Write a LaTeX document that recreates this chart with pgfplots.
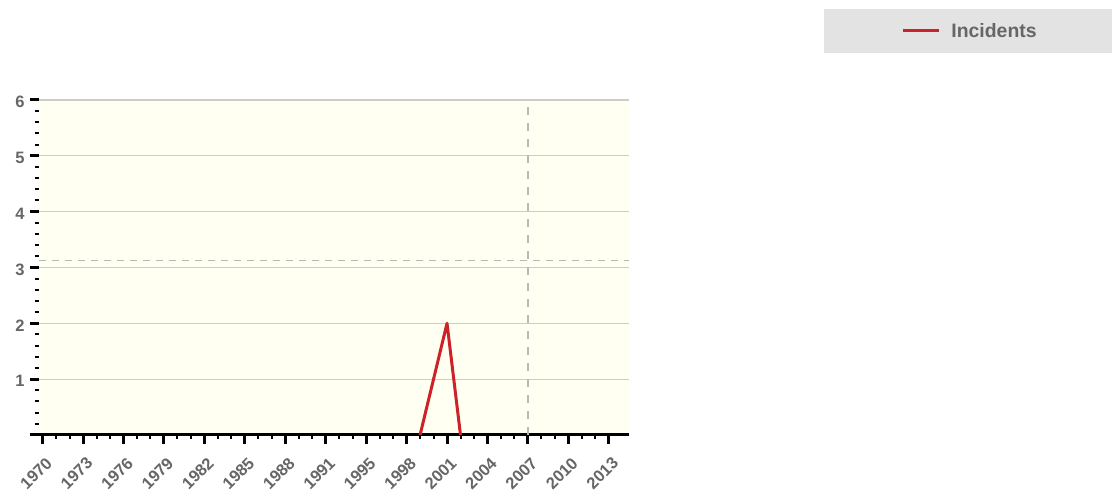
\documentclass[border=0pt]{standalone}
\usepackage{pgfplots}
\pgfplotsset{compat=1.18}
\usepackage{fontspec}
\setmainfont{Liberation Sans}
\definecolor{bgc}{HTML}{FFFFF2}
\definecolor{gridc}{HTML}{CDCDC3}
\definecolor{tickc}{HTML}{666666}
\definecolor{redc}{HTML}{CC2229}
\definecolor{legbg}{HTML}{E3E3E3}
\definecolor{dashc}{HTML}{B8B8B8}
\begin{document}
\begin{tikzpicture}
\useasboundingbox (0,0) rectangle (1112pt,494pt);
\begin{axis}[
  at={(39pt,59pt)}, anchor=south west, scale only axis,
  width=590pt, height=335pt,
  xmin=-0.27, xmax=43.5, ymin=0, ymax=6,
  axis background/.style={fill=bgc},
  axis x line=bottom, axis y line=left,
  x axis line style={-, black, line width=3pt},
  y axis line style={draw=none},
  tick align=outside,
  major tick length=9pt, minor tick length=4pt,
  major tick style={black, line width=3pt},
  minor tick style={black, line width=2pt},
  ytick={0,1,2,3,4,5,6},
  yticklabels={{},1,2,3,4,5,6},
  minor y tick num=4,
  xtick={0,3,...,42},
  xticklabels={1970,1973,1976,1979,1982,1985,1988,1991,1995,1998,2001,2004,2007,2010,2013},
  minor x tick num=2,
  ymajorgrids,
  major grid style={gridc, line width=1.3pt},
  ticklabel style={font=\fontsize{16.5}{18}\selectfont\bfseries, text=tickc},
  yticklabel style={xshift=-2pt, yshift=-2pt},
  xticklabel style={xshift=9pt, yshift=-14pt, rotate=45, anchor=east},
  legend image code/.code={\draw[#1, line width=3pt] (0pt,0pt) -- (36pt,0pt);},
  legend style={at={(1.5763,1.2060)}, anchor=center, fill=legbg, draw=none,
    inner xsep=77pt, inner ysep=14pt,
    font=\fontsize{19.4}{21}\selectfont\bfseries, text=tickc,
    nodes={inner sep=0pt},
    /tikz/every odd column/.append style={column sep=11pt}},
]
\addplot[dashc, line width=1.2pt, dash pattern=on 7pt off 6pt, forget plot] coordinates {(-0.27,3.12) (43.5,3.12)};
\addplot[dashc, line width=1.2pt, dash pattern=on 8pt off 8pt, forget plot] coordinates {(36,0) (36,6)};
\addplot[redc, line width=3pt, line join=round] coordinates {(28,0) (30,2) (31,0)};
\addlegendentry{Incidents}
\end{axis}
\end{tikzpicture}
\end{document}
